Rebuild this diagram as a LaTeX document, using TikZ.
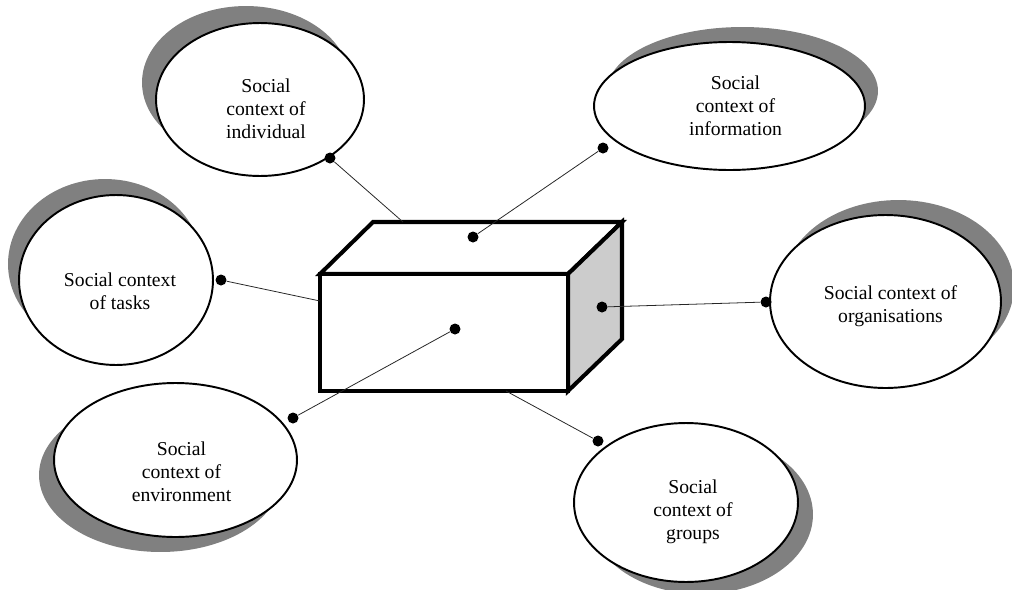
\documentclass[tikz,border=0pt]{standalone}
\usepackage{fontspec}
\setmainfont{Liberation Serif}
\usetikzlibrary{shapes.geometric, shadows}
\definecolor{shadowgray}{HTML}{808080}
\definecolor{sidegray}{HTML}{CCCCCC}

\begin{document}
\begin{tikzpicture}[
    x=0.02cm, y=-0.02cm,
    context/.style={
      ellipse,
      draw=black,
      line width=1.1pt,
      fill=white,
      inner sep=0pt
    },
    caption/.style={align=center, inner sep=0pt, font=\fontsize{11.2}{13.2}\selectfont},
    shadowed/.style 2 args={drop shadow={shadow xshift=#1, shadow yshift=#2, fill=shadowgray, opacity=1}},
    dot/.style={circle, fill=black, inner sep=0pt, minimum size=0.22cm},
    link/.style={line width=0.45pt, draw=black!85},
    face/.style={line width=2.3pt, line join=miter}
  ]
    \useasboundingbox (0,0) rectangle (1012,589);

    % the six contexts
    \node[context, shadowed={-0.28cm}{0.34cm}, minimum width=4.16cm, minimum height=3.06cm] (indiv) at (260,99.5) {};
    \node[context, shadowed={0.26cm}{0.30cm}, minimum width=5.42cm, minimum height=2.56cm] (info) at (729.5,106) {};
    \node[context, shadowed={-0.22cm}{0.32cm}, minimum width=3.88cm, minimum height=3.40cm] (tasks) at (116,280) {};
    \node[context, shadowed={0.26cm}{0.30cm}, minimum width=4.62cm, minimum height=3.46cm] (orgs) at (885.5,301.5) {};
    \node[context, shadowed={-0.30cm}{-0.30cm}, minimum width=4.86cm, minimum height=3.08cm] (env) at (175.5,460) {};
    \node[context, shadowed={0.30cm}{-0.24cm}, minimum width=4.48cm, minimum height=3.18cm] (groups) at (686,502.5) {};

    \node[caption] (indiv-text) at ([shift={(6,9)}]indiv.center) {Social\\context of\\individual};
    \node[caption] (info-text) at ([shift={(6,0)}]info.center) {Social\\context of\\information};
    \node[caption] (tasks-text) at ([shift={(4,11)}]tasks.center) {Social context\\of tasks};
    \node[caption] (orgs-text) at ([shift={(5,5)}]orgs.center) {Social context of\\organisations};
    \node[caption] (env-text) at ([shift={(6,12)}]env.center) {Social\\context of\\environment};
    \node[caption] (groups-text) at ([shift={(7,9)}]groups.center) {Social\\context of\\groups};

    % the box
    \coordinate (ftl) at (320,274);
    \coordinate (ftr) at (568,274);
    \coordinate (fbr) at (568,391);
    \coordinate (fbl) at (320,391);
    \coordinate (btl) at (373,222);
    \coordinate (btr) at (622,222);
    \coordinate (bbr) at (622,339);
    \filldraw[face, fill=white] (ftl) -- (btl) -- (btr) -- (ftr) -- cycle;
    \filldraw[face, fill=sidegray] (ftr) -- (btr) -- (bbr) -- (fbr) -- cycle;
    \filldraw[face, fill=white] (ftl) -- (ftr) -- (fbr) -- (fbl) -- cycle;

    % dots
    \node[dot] (d-indiv) at (330,158) {};
    \node[dot] (d-info) at (603,148) {};
    \node[dot] (d-tasks) at (221,280) {};
    \node[dot] (d-orgs) at (766,302) {};
    \node[dot] (d-env) at (293,418) {};
    \node[dot] (d-groups) at (598,441) {};
    \node[dot] (d-top) at (473,237) {};
    \node[dot] (d-front) at (455,329) {};
    \node[dot] (d-side) at (602,307) {};

    \coordinate (e-indiv) at (403,222);
    \coordinate (e-tasks) at (320,301);
    \coordinate (e-groups) at (506,391);

    \draw[link] (d-indiv) -- (e-indiv);
    \draw[link] (d-info) -- (d-top);
    \draw[link] (d-tasks) -- (e-tasks);
    \draw[link] (d-orgs) -- (d-side);
    \draw[link] (d-env) -- (d-front);
    \draw[link] (e-groups) -- (d-groups);
\end{tikzpicture}
\end{document}
